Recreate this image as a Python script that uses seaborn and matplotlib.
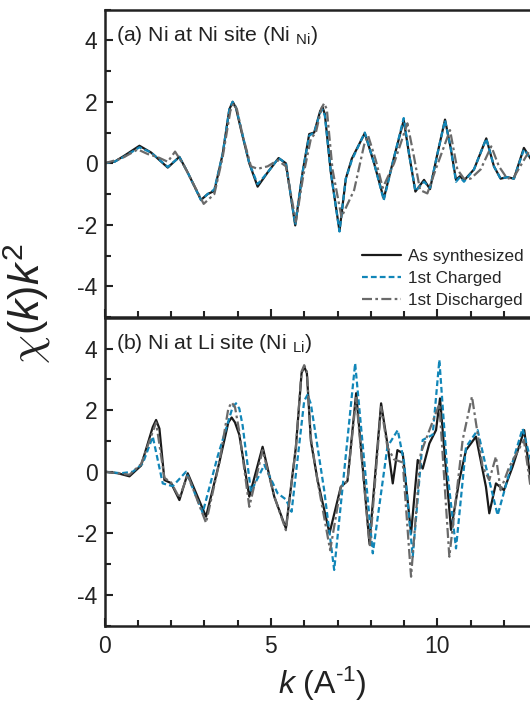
import matplotlib
matplotlib.use("Agg")
import matplotlib.pyplot as plt
from matplotlib.ticker import MultipleLocator
import seaborn as sns
import pandas as pd

# ---------------- data ----------------
series_names = ["As synthesized", "1st Charged", "1st Discharged"]

# Panel (a): Ni at Ni site
ka_syn = [0, 0.3, 0.6, 1.05, 1.4, 1.9, 2.25, 2.5, 2.9, 3.1, 3.3, 3.55, 3.75, 3.85, 3.95, 4.1, 4.35, 4.6, 4.9, 5.23, 5.45,
          5.73, 5.95, 6.15, 6.3, 6.48, 6.55, 6.62, 6.8, 7.06, 7.25, 7.43, 7.82, 8.1, 8.39, 8.7, 8.99, 9.15, 9.34, 9.6, 9.78,
          9.98, 10.23, 10.4, 10.56, 10.68, 10.8, 11.1, 11.47, 11.7, 11.9, 12.1, 12.3, 12.6, 12.8, 13.0]
ya_syn = [0, 0.05, 0.25, 0.57, 0.35, -0.14, 0.21, -0.3, -1.19, -1.0, -0.9, 0.3, 1.75, 2.0, 1.8, 1.1, 0.0, -0.76, -0.3, 0.17, 0.0,
          -2.02, -0.3, 0.95, 1.0, 1.7, 1.83, 1.6, -0.3, -2.2, -0.5, 0.15, 0.98, 0.0, -1.15, 0.2, 1.4, 0.3, -0.92, -0.54, -0.84,
          0.2, 1.42, 0.5, -0.54, -0.42, -0.56, -0.2, 0.81, -0.1, -0.5, -0.45, -0.5, 0.5, 0.15, -0.1]

ka_chg = ka_syn
ya_chg = [0, 0.05, 0.22, 0.52, 0.35, -0.12, 0.2, -0.3, -1.2, -1.0, -0.85, 0.3, 1.75, 2.0, 1.82, 1.15, 0.0, -0.68, -0.3, 0.17, 0.0,
          -2.0, -0.3, 0.9, 1.0, 1.65, 1.75, 1.55, -0.3, -2.22, -0.5, 0.1, 1.0, 0.0, -1.2, 0.2, 1.47, 0.3, -0.9, -0.6, -0.8,
          0.2, 1.4, 0.5, -0.6, -0.45, -0.6, -0.2, 0.8, -0.1, -0.5, -0.45, -0.5, 0.45, 0.15, -0.1]

ka_dis = [0, 0.5, 1.0, 1.3, 1.6, 1.9, 2.12, 2.4, 2.98, 3.3, 3.55, 3.78, 3.88, 3.98, 4.15, 4.4, 4.6, 4.9, 5.2, 5.45, 5.75, 5.98,
          6.2, 6.35, 6.52, 6.6, 6.68, 6.85, 7.12, 7.5, 7.8, 7.92, 8.15, 8.36, 8.7, 9.1, 9.3, 9.48, 9.7, 9.95, 10.38, 10.6, 10.8,
          11.0, 11.3, 11.62, 11.85, 12.1, 12.3, 12.76, 13.0]
ya_dis = [0, 0.15, 0.45, 0.3, 0.2, 0.05, 0.38, -0.1, -1.32, -1.0, 0.2, 1.7, 1.95, 1.75, 0.9, -0.1, -0.18, -0.1, 0.1, -0.1, -1.9,
          -0.35, 0.8, 1.0, 1.8, 1.95, 1.75, -0.2, -1.75, -0.87, 0.6, 0.9, 0.1, -0.8, 0.0, 1.3, 0.2, -0.87, -0.98, -0.2, 1.08,
          -0.2, -0.5, -0.5, -0.2, 0.55, -0.1, -0.5, -0.45, 0.4, 0.1]

# Panel (b): Ni at Li site
kb_syn = [0, 0.4, 0.75, 1.1, 1.45, 1.55, 1.65, 1.8, 2.0, 2.25, 2.5, 3.05, 3.45, 3.72, 3.82, 3.92, 4.05, 4.35, 4.75, 5.1, 5.45,
          5.75, 5.92, 6.0, 6.08, 6.2, 6.4, 6.76, 7.1, 7.3, 7.56, 7.96, 8.31, 8.5, 8.66, 8.8, 8.96, 9.21, 9.41, 9.56, 9.76,
          9.96, 10.08, 10.41, 10.66, 10.86, 11.16, 11.46, 11.56, 11.76, 12.0, 12.26, 12.61, 12.8, 13.0]
yb_syn = [0, -0.05, -0.15, 0.2, 1.45, 1.68, 1.4, -0.27, -0.37, -0.92, -0.05, -1.46, 0.3, 1.6, 1.76, 1.6, 1.2, -0.81, 0.81,
          -0.81, -1.84, 0.8, 3.2, 3.41, 3.2, 1.0, -0.27, -2.0, -0.49, -0.3, 2.55, -2.32, 2.22, 0.9, -0.38, 0.7, 0.6,
          -2.0, 0.38, 0.1, 0.92, 1.35, 2.38, -1.89, -0.27, 0.7, 1.14, -0.49, -1.35, -0.38, -0.6, 0.16, 1.35, -0.27, -0.5]

kb_chg = [0, 0.5, 0.85, 1.15, 1.45, 1.75, 2.05, 2.45, 2.95, 3.4, 3.85, 3.95, 4.05, 4.15, 4.4, 4.8, 5.2, 5.45, 5.62, 6.0,
          6.1, 6.2, 6.4, 6.6, 6.9, 7.2, 7.53, 8.06, 8.5, 8.81, 9.0, 9.26, 9.56, 9.86, 10.06, 10.3, 10.56, 10.86, 11.21,
          11.46, 11.81, 12.16, 12.56, 12.8, 13.0]
yb_chg = [0, -0.05, 0.0, 0.27, 1.14, -0.38, -0.47, 0.0, -1.33, 0.5, 2.1, 2.22, 2.05, 1.5, -0.65, 0.22, -0.7, -0.9, -1.3,
          2.3, 2.5, 2.2, 0.81, -0.6, -3.19, 0.0, 3.52, -2.65, 0.81, 1.35, 0.3, -2.76, 1.03, 1.2, 3.63, 0.0, -2.49, 0.8,
          1.35, 0.16, -1.41, -0.05, 1.4, 0.4, 0.0]

kb_dis = [0, 0.4, 0.75, 1.1, 1.55, 1.8, 2.0, 2.25, 2.5, 3.05, 3.45, 3.72, 3.82, 3.92, 4.05, 4.35, 4.75, 5.1, 5.45, 5.75,
          5.92, 6.0, 6.08, 6.2, 6.4, 6.78, 7.1, 7.3, 7.56, 7.97, 8.31, 8.5, 8.7, 8.96, 9.21, 9.5, 9.86, 10.06, 10.36,
          10.76, 11.04, 11.36, 11.56, 11.76, 11.9, 12.16, 12.6, 12.8, 13.0]
yb_dis = [0, -0.05, -0.1, 0.25, 1.6, -0.2, -0.35, -0.85, -0.1, -1.66, 0.3, 2.05, 2.25, 2.1, 1.3, -1.14, 0.7, -0.8, -1.9,
          0.8, 3.25, 3.46, 3.25, 1.1, -0.3, -2.55, -0.5, -0.3, 2.4, -2.45, 2.1, 0.8, 0.4, 0.3, -3.41, 0.6, 1.63, 2.2,
          -2.76, 1.03, 2.44, 0.16, -0.27, 0.49, -0.6, 0.16, 1.03, -0.5, -0.3]

panel_titles = ["(a) Ni at Ni site (Ni $_{\\mathregular{Ni}}$)", "(b) Ni at Li site (Ni $_{\\mathregular{Li}}$)"]
y_ticks = [-4, -2, 0, 2, 4]
x_ticks = [0, 5, 10]

# ---------------- style ----------------
sns.set_theme(style="ticks")
plt.rcParams["font.family"] = ["Liberation Sans", "DejaVu Sans"]
plt.rcParams["mathtext.fontset"] = "custom"
plt.rcParams["mathtext.rm"] = "Liberation Sans"
plt.rcParams["mathtext.it"] = "Liberation Sans:italic"
plt.rcParams["axes.unicode_minus"] = False

ink = "#222222"
colors = {"As synthesized": "#1a1a1a", "1st Charged": "#1186b8", "1st Discharged": "#6a6a6a"}
styles = {"As synthesized": "-", "1st Charged": (0, (2.6, 1.4)), "1st Discharged": (0, (4.5, 1.5, 1.2, 1.5))}

fig = plt.figure(figsize=(5.3, 7.02), dpi=100)
left = 104.5 / 530
width = 466 / 530
ax_a = fig.add_axes([left, 0.5484, width, 0.4380])
ax_b = fig.add_axes([left, 0.1087, width, 0.4387])

panel_data = [
    [(ka_syn, ya_syn), (ka_chg, ya_chg), (ka_dis, ya_dis)],
    [(kb_syn, yb_syn), (kb_chg, yb_chg), (kb_dis, yb_dis)],
]

for ax, pdata, title in zip([ax_a, ax_b], panel_data, panel_titles):
    for name, (kk, yy) in zip(series_names, pdata):
        df = pd.DataFrame({"k": kk, "chi": yy})
        sns.lineplot(data=df, x="k", y="chi", ax=ax, color=colors[name], linestyle=styles[name],
                     linewidth=1.6, estimator=None, sort=False, label=name)
    ax.set_xlim(0, 14)
    ax.set_ylim(-5, 5)
    ax.set_yticks(y_ticks)
    ax.set_xticks(x_ticks)
    ax.xaxis.set_minor_locator(MultipleLocator(1))
    ax.yaxis.set_minor_locator(MultipleLocator(1))
    ax.tick_params(which="both", direction="in", width=1.5, labelsize=16.5, colors=ink)
    ax.tick_params(which="major", length=6)
    ax.tick_params(which="minor", length=4)
    ax.tick_params(axis="x", which="major", pad=7)
    ax.tick_params(axis="y", which="major", pad=5)
    for sp in ax.spines.values():
        sp.set_linewidth(1.8)
        sp.set_color(ink)
    ax.set_xlabel("")
    ax.set_ylabel("")
    ax.text(0.35, 4.15, title, fontsize=15.3, va="center", ha="left", color=ink)
    if ax.get_legend() is not None:
        ax.get_legend().remove()

ax_a.tick_params(labelbottom=False)

handles, labels = ax_a.get_legend_handles_labels()
fig.legend(handles, labels, loc="upper left", bbox_to_anchor=(362 / 530, 1 - 249 / 702),
           frameon=False, fontsize=12.3, handlelength=2.3, handletextpad=0.42,
           labelspacing=0.42, borderpad=0, borderaxespad=0)

# y label: curly chi + sans italic (k)k^2, rotated
ax_x = 40 / 530
ax_y = 1 - 335 / 702
fig.text(ax_x, ax_y, r"$\chi$", rotation=90, rotation_mode="anchor", fontsize=33, ha="right",
         va="baseline", color=ink, math_fontfamily="cm")
fig.text(ax_x, ax_y, r"$(k)k^{\mathregular{2}}$", rotation=90, rotation_mode="anchor", fontsize=31,
         ha="left", va="baseline", color=ink)

fig.text(322 / 530, 1 - 684 / 702, r"$k$ (A$^{\mathregular{\text{-}1}}$)", fontsize=23, ha="center",
         va="center", color=ink)

fig.savefig("out.png", dpi=100)
